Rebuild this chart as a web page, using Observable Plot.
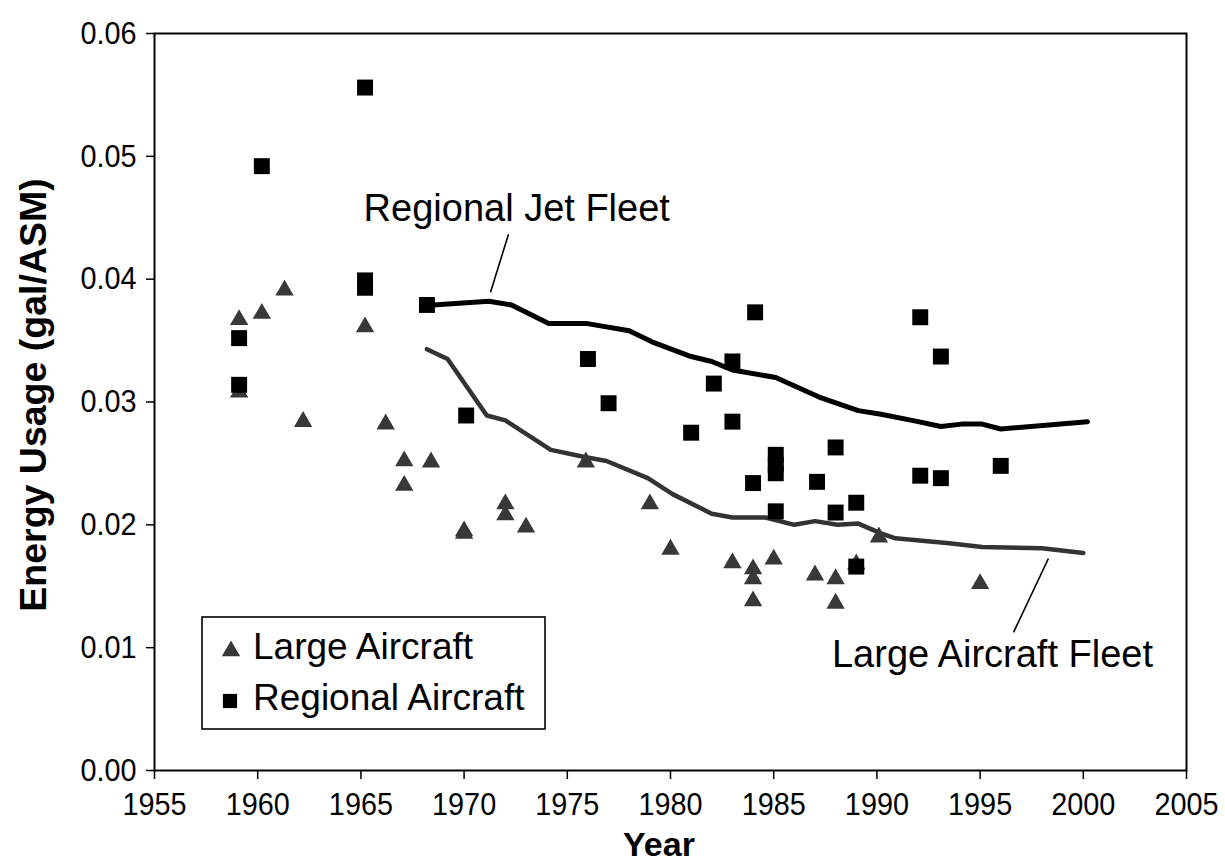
<!DOCTYPE html>
<html>
<head>
<meta charset="utf-8">
<script src="https://cdn.jsdelivr.net/npm/d3@7"></script>
<script src="https://cdn.jsdelivr.net/npm/@observablehq/plot@0.6"></script>
<style>
  html, body { margin: 0; padding: 0; background: #fff; }
  #chart { width: 1225px; height: 865px; }
</style>
</head>
<body>
<div id="chart"></div>
<script>
// ---- Data ----
const xTicks = [1955, 1960, 1965, 1970, 1975, 1980, 1985, 1990, 1995, 2000, 2005];
const yTicks = [0, 0.01, 0.02, 0.03, 0.04, 0.05, 0.06];

// Large Aircraft (triangles)
const largeYears  = [1959.1, 1959.1, 1960.2, 1961.3, 1962.2, 1965.2, 1966.2, 1967.1, 1967.1, 1968.4,
                     1970.0, 1970.0, 1972.0, 1972.0, 1973.0, 1975.9, 1979.0, 1980.0, 1983.0, 1984.0,
                     1984.0, 1984.0, 1985.0, 1987.0, 1988.0, 1988.0, 1989.0, 1990.1, 1995.0];
const largeValues = [0.0367, 0.0308, 0.0372, 0.0391, 0.0284, 0.0361, 0.0282, 0.0252, 0.0232, 0.0251,
                     0.0195, 0.0193, 0.0217, 0.0208, 0.0198, 0.0251, 0.0217, 0.0180, 0.0169, 0.0164,
                     0.0156, 0.0138, 0.0172, 0.0159, 0.0156, 0.0136, 0.0168, 0.0190, 0.0152];

// Regional Aircraft (squares)
const regionalYears  = [1959.1, 1959.1, 1960.2, 1965.2, 1965.2, 1965.2, 1968.2, 1970.1, 1976.0, 1977.0,
                        1981.0, 1982.1, 1983.0, 1983.0, 1984.1, 1984.0, 1985.1, 1985.1, 1985.1, 1985.1,
                        1987.1, 1988.0, 1988.0, 1989.0, 1989.0, 1992.1, 1993.1, 1992.1, 1993.1, 1996.0];
const regionalValues = [0.0352, 0.0314, 0.0492, 0.0556, 0.0399, 0.0393, 0.0379, 0.0289, 0.0335, 0.0299,
                        0.0275, 0.0315, 0.0333, 0.0284, 0.0373, 0.0234, 0.0257, 0.0249, 0.0242, 0.0211,
                        0.0235, 0.0263, 0.0210, 0.0218, 0.0166, 0.0369, 0.0337, 0.0240, 0.0238, 0.0248];

// Regional Jet Fleet line
const rjFleetYears  = [1968.5, 1971.2, 1972.3, 1974.1, 1975.9, 1978.0, 1979.1, 1981.0, 1982.0, 1983.0,
                       1985.1, 1987.2, 1989.1, 1990.2, 1992.0, 1993.1, 1994.1, 1995.1, 1996.0, 2000.2];
const rjFleetValues = [0.0379, 0.0382, 0.0379, 0.0364, 0.0364, 0.0358, 0.0349, 0.0337, 0.0333, 0.0326,
                       0.0320, 0.0304, 0.0293, 0.0290, 0.0284, 0.0280, 0.0282, 0.0282, 0.0278, 0.0284];

// Large Aircraft Fleet line
const laFleetYears  = [1968.2, 1969.2, 1971.1, 1972.0, 1974.2, 1975.9, 1976.9, 1978.9, 1980.1, 1982.0,
                       1983.0, 1984.6, 1986.0, 1987.0, 1988.1, 1989.1, 1990.2, 1990.9, 1993.5, 1995.1,
                       1998.0, 2000.0];
const laFleetValues = [0.0343, 0.0335, 0.0289, 0.0285, 0.0261, 0.0255, 0.0252, 0.0238, 0.0225, 0.0209,
                       0.0206, 0.0206, 0.0200, 0.0203, 0.0200, 0.0201, 0.0193, 0.0189, 0.0185, 0.0182,
                       0.0181, 0.0177];

// Annotations
const annoTexts  = ["Regional Jet Fleet", "Large Aircraft Fleet"];
const annoYears  = [1972.55, 1995.6];
const annoValues = [0.0457, 0.0094];
// Leader lines (from label to curve)
const leaderX1 = [1972.15, 1996.62];
const leaderY1 = [0.04365, 0.01124];
const leaderX2 = [1971.28, 1998.31];
const leaderY2 = [0.03893, 0.01726];

const legendLabels = ["Large Aircraft", "Regional Aircraft"];

// ---- Build tables ----
const large = largeYears.map((x, i) => ({x, y: largeValues[i]}));
const regional = regionalYears.map((x, i) => ({x, y: regionalValues[i]}));
const rjFleet = rjFleetYears.map((x, i) => ({x, y: rjFleetValues[i]}));
const laFleet = laFleetYears.map((x, i) => ({x, y: laFleetValues[i]}));
const annos = annoTexts.map((t, i) => ({t, x: annoYears[i], y: annoValues[i]}));
const leaders = leaderX1.map((x1, i) => ({x1, y1: leaderY1[i], x2: leaderX2[i], y2: leaderY2[i]}));

const sans = "'Liberation Sans', Arial, Helvetica, sans-serif";

const chart = Plot.plot({
  width: 1225,
  height: 865,
  marginLeft: 154,
  marginRight: 39,
  marginTop: 33,
  marginBottom: 95,
  x: {domain: [1955, 2005]},
  y: {domain: [0, 0.06]},
  style: {fontFamily: sans, fontSize: "32px", color: "#000", background: "#fff"},
  marks: [
    Plot.axisX({ticks: xTicks, tickSize: 9, tickPadding: 13, tickFormat: d3.format("d"), label: null, strokeWidth: 1.5, fontSize: 32}),
    Plot.axisY({ticks: yTicks, tickSize: 8, tickPadding: 10, tickFormat: d3.format(".2f"), label: null, strokeWidth: 1.5, fontSize: 32}),
    Plot.line(laFleet, {x: "x", y: "y", stroke: "#333", strokeWidth: 4.5, curve: "linear"}),
    Plot.line(rjFleet, {x: "x", y: "y", stroke: "#000", strokeWidth: 5, curve: "linear"}),
    Plot.dot(large, {x: "x", y: "y", symbol: "triangle", r: 6.8, fill: "#383838", stroke: "none"}),
    Plot.dot(regional, {x: "x", y: "y", symbol: "square", r: 9, fill: "#000", stroke: "none"}),
    Plot.link(leaders, {x1: "x1", y1: "y1", x2: "x2", y2: "y2", stroke: "#000", strokeWidth: 1.6}),
    Plot.text(annos, {x: "x", y: "y", text: "t", fontSize: 38, fontFamily: sans, textAnchor: "middle", fill: "#000"}),
    Plot.frame({stroke: "#000", strokeWidth: 2})
  ]
});

document.getElementById("chart").appendChild(chart);

const svg = d3.select(chart);

// Slightly condense tick labels horizontally (reference uses a narrow face)
svg.selectAll('g[aria-label="x-axis tick label"] text, g[aria-label="y-axis tick label"] text')
  .style("font-size", "32px")
  .style("font-family", sans)
  .each(function() {
    const w = this.getComputedTextLength();
    if (w > 0) {
      this.setAttribute("textLength", (w * 0.9).toFixed(1));
      this.setAttribute("lengthAdjust", "spacingAndGlyphs");
    }
  });

// ---- Axis titles and legend ----
svg.append("text")
  .attr("x", 659).attr("y", 856)
  .attr("text-anchor", "middle")
  .style("font-family", sans).style("font-weight", "bold").style("font-size", "34px")
  .attr("fill", "#000")
  .text("Year");
svg.append("text")
  .attr("transform", "translate(46,395) rotate(-90)")
  .attr("text-anchor", "middle")
  .style("font-family", sans).style("font-weight", "bold").style("font-size", "37.5px")
  .attr("fill", "#000")
  .text("Energy Usage (gal/ASM)");

const lg = svg.append("g");
lg.append("rect")
  .attr("x", 202).attr("y", 617).attr("width", 343).attr("height", 112)
  .attr("fill", "#fff").attr("stroke", "#000").attr("stroke-width", 1.6);
const triSize = Math.PI * 6.8 * 6.8;
const sqSize = Math.PI * 8 * 8;
lg.append("path")
  .attr("d", d3.symbol(d3.symbolTriangle, triSize)())
  .attr("transform", "translate(231,651)")
  .attr("fill", "#383838");
lg.append("path")
  .attr("d", d3.symbol(d3.symbolSquare, sqSize)())
  .attr("transform", "translate(230,701)")
  .attr("fill", "#000");
lg.selectAll("text.lgl").data(legendLabels).join("text")
  .attr("class", "lgl")
  .attr("x", 253)
  .attr("y", (d, i) => 659 + i * 51)
  .attr("text-anchor", "start")
  .style("font-family", sans).style("font-size", "37px")
  .attr("fill", "#000")
  .text(d => d);
</script>
</body>
</html>
